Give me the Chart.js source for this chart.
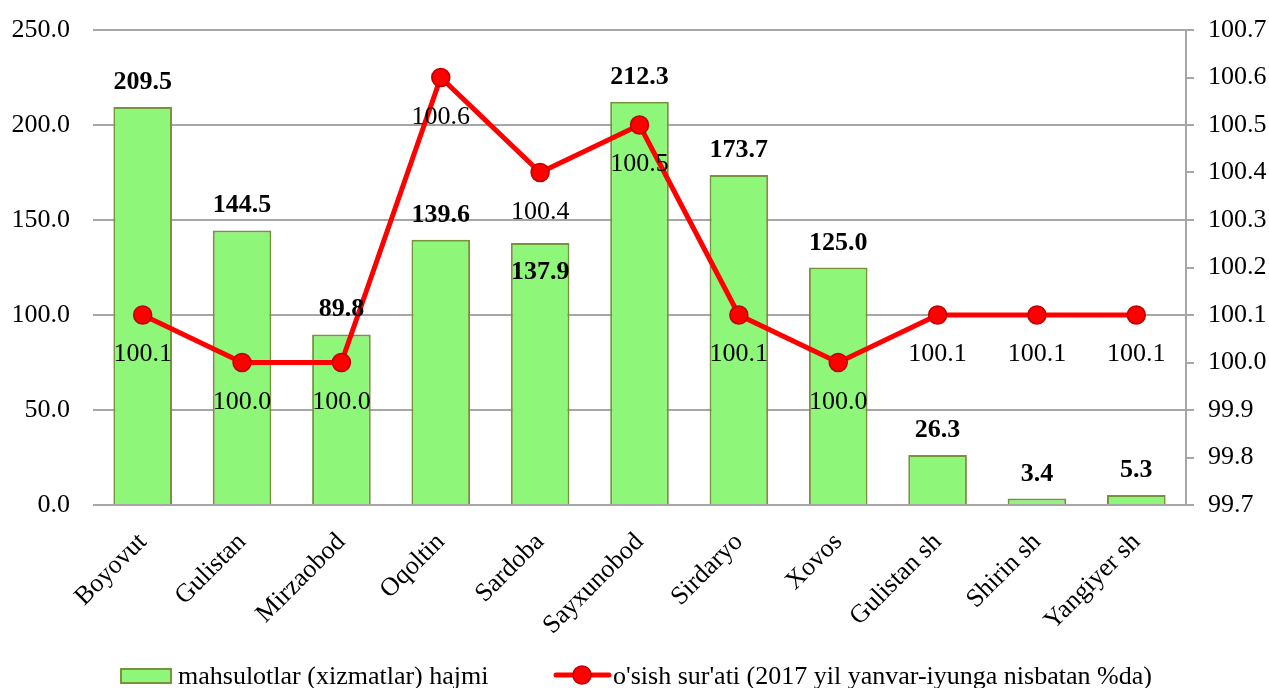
<!DOCTYPE html>
<html>
<head>
<meta charset="utf-8">
<script src="https://cdn.jsdelivr.net/npm/chart.js@4/dist/chart.umd.min.js"></script>
<style>
  html, body { margin: 0; padding: 0; background: #ffffff; }
  canvas { display: block; }
</style>
</head>
<body>
<canvas id="c" width="1269" height="688"></canvas>
<script>
const categories = ['Boyovut', 'Gulistan', 'Mirzaobod', 'Oqoltin', 'Sardoba', 'Sayxunobod', 'Sirdaryo', 'Xovos', 'Gulistan sh', 'Shirin sh', 'Yangiyer sh'];
const volume = [209.5, 144.5, 89.8, 139.6, 137.9, 212.3, 173.7, 125.0, 26.3, 3.4, 5.3];
const growth = [100.1, 100.0, 100.0, 100.6, 100.4, 100.5, 100.1, 100.0, 100.1, 100.1, 100.1];
const volumeLabel = 'mahsulotlar (xizmatlar) hajmi';
const growthLabel = "o'sish sur'ati (2017 yil yanvar-iyunga nisbatan %da)";
const insideLabelIndex = [4];

const FONT = '"Liberation Serif", "Times New Roman", serif';
const GRID = '#a6a6a6';
const BAR_FILL = '#8ef77a';
const BAR_EDGE = '#77933c';
const RED = '#ff0000';
const RED_EDGE = '#c00000';

const labelsPlugin = {
  id: 'valueLabels',
  afterDatasetsDraw(chart) {
    const ctx = chart.ctx;
    ctx.save();
    ctx.textAlign = 'center';
    ctx.textBaseline = 'alphabetic';
    ctx.fillStyle = '#000';
    const barMeta = chart.getDatasetMeta(0);
    ctx.font = 'bold 26px ' + FONT;
    barMeta.data.forEach((el, i) => {
      const txt = volume[i].toFixed(1);
      const y = insideLabelIndex.includes(i) ? el.y + 36 : el.y - 18;
      ctx.fillText(txt, el.x, y);
    });
    const lineMeta = chart.getDatasetMeta(1);
    ctx.font = '26px ' + FONT;
    lineMeta.data.forEach((el, i) => {
      ctx.fillText(growth[i].toFixed(1), el.x, el.y + 46);
    });
    ctx.restore();
  },
  afterDraw(chart) {
    const ctx = chart.ctx;
    ctx.save();
    ctx.fillStyle = BAR_FILL;
    ctx.strokeStyle = BAR_EDGE;
    ctx.lineWidth = 2;
    ctx.fillRect(121, 669, 50, 14);
    ctx.strokeRect(121, 669, 50, 14);
    ctx.fillStyle = '#000';
    ctx.font = '26px ' + FONT;
    ctx.textAlign = 'left';
    ctx.textBaseline = 'alphabetic';
    ctx.fillText(volumeLabel, 178, 684);
    ctx.strokeStyle = RED;
    ctx.lineWidth = 5;
    ctx.lineCap = 'round';
    ctx.beginPath();
    ctx.moveTo(556, 675);
    ctx.lineTo(609, 675);
    ctx.stroke();
    ctx.beginPath();
    ctx.arc(582, 675, 9, 0, Math.PI * 2);
    ctx.fillStyle = RED;
    ctx.fill();
    ctx.lineWidth = 1.5;
    ctx.strokeStyle = RED_EDGE;
    ctx.stroke();
    ctx.fillStyle = '#000';
    ctx.fillText(growthLabel, 613, 684);
    ctx.restore();
  }
};

new Chart(document.getElementById('c'), {
  type: 'bar',
  data: {
    labels: categories,
    datasets: [
      {
        type: 'bar',
        label: volumeLabel,
        data: volume,
        yAxisID: 'y',
        backgroundColor: BAR_FILL,
        borderColor: BAR_EDGE,
        borderWidth: 2,
        categoryPercentage: 1,
        barPercentage: 0.59,
        order: 2
      },
      {
        type: 'line',
        label: growthLabel,
        data: growth,
        yAxisID: 'y1',
        borderColor: RED,
        borderWidth: 5,
        backgroundColor: RED,
        pointRadius: 9,
        pointBackgroundColor: RED,
        pointBorderColor: RED_EDGE,
        pointBorderWidth: 1.5,
        tension: 0,
        fill: false,
        order: 1
      }
    ]
  },
  options: {
    responsive: false,
    devicePixelRatio: 1,
    animation: false,
    layout: { padding: { top: 30, bottom: 53, left: 0, right: 0 } },
    plugins: { legend: { display: false }, tooltip: { enabled: false } },
    scales: {
      x: {
        grid: { display: false },
        border: { display: false },
        ticks: {
          maxRotation: 45,
          minRotation: 45,
          autoSkip: false,
          padding: 14,
          color: '#000',
          font: { family: FONT, size: 26 }
        },
        afterFit(s) { s.height = 130; s.paddingLeft = 0; s.paddingRight = 0; }
      },
      y: {
        position: 'left',
        min: 0,
        max: 250,
        grid: { color: GRID, lineWidth: 2, drawTicks: false },
        border: { display: false },
        ticks: {
          stepSize: 50,
          padding: 23,
          color: '#000',
          font: { family: FONT, size: 26 },
          callback: v => Number(v).toFixed(1)
        },
        afterFit(s) { s.width = 93; s.paddingTop = 0; s.paddingBottom = 0; }
      },
      y1: {
        position: 'right',
        min: 99.7,
        max: 100.7,
        grid: { drawOnChartArea: false, drawTicks: true, tickLength: 8, color: GRID, lineWidth: 2 },
        border: { display: true, color: GRID, width: 2 },
        ticks: {
          stepSize: 0.1,
          padding: 14,
          color: '#000',
          font: { family: FONT, size: 26 },
          callback: v => Number(v).toFixed(1)
        },
        afterFit(s) { s.width = 83; s.paddingTop = 0; s.paddingBottom = 0; }
      }
    }
  },
  plugins: [labelsPlugin]
});
</script>
</body>
</html>
